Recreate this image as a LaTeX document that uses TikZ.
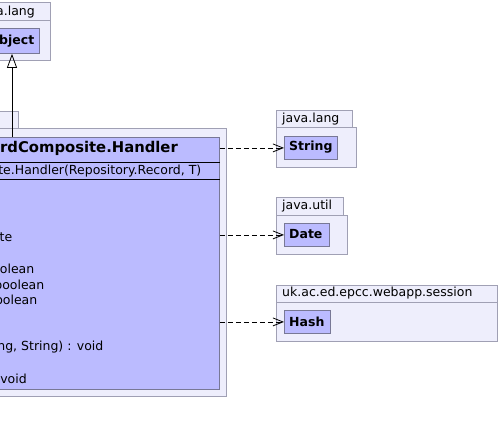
\documentclass[tikz,border=0pt]{standalone}
\usepackage{fontspec}
\setmainfont{DejaVu Sans}
\usetikzlibrary{arrows.meta}
\definecolor{pkgfill}{RGB}{238,238,252}
\definecolor{pkgline}{RGB}{160,160,180}
\definecolor{clsfill}{RGB}{187,187,255}
\definecolor{clsline}{RGB}{120,120,150}
\begin{document}
\begin{tikzpicture}[x=1pt,y=-1pt,
  pkg/.style={draw=pkgline, fill=pkgfill, line width=0.8pt, inner sep=0pt, anchor=north west},
  cls/.style={draw=clsline, fill=clsfill, line width=0.8pt, inner sep=0pt, anchor=north west},
  lbl/.style={inner sep=0pt, font=\fontsize{12.5}{14}\selectfont},
  blbl/.style={inner sep=0pt, font=\fontsize{12.5}{14}\selectfont\bfseries},
  ttl/.style={inner sep=0pt, font=\fontsize{14.8}{17}\selectfont\bfseries},
  dep/.style={dash pattern=on 5pt off 3pt, line width=0.8pt, -{Straight Barb[length=10pt,width=8pt]}},
  inh/.style={line width=0.8pt, -{Triangle[open,length=14pt,width=10pt]}},
  sep/.style={line width=0.9pt, draw=black}]
\useasboundingbox (0,0) rectangle (500,434);
\clip (0,0) rectangle (500,434);

% package of Object
\node[pkg, minimum width=90pt, minimum height=18pt] (objtab) at (-40,2) {};
\node[pkg, minimum width=90pt, minimum height=40pt] (objpkg) at (-40,20) {};
\node[lbl, anchor=east] (objlbl) at (35,12) {a.lang};
\node[cls, minimum width=59pt, minimum height=25pt] (objbox) at (-20,28) {};
\node[blbl, anchor=east] (objtxt) at (34.5,41) {bject};

% main package
\node[pkg, minimum width=58pt, minimum height=17pt] (maintab) at (-40,111) {};
\node[pkg, minimum width=266pt, minimum height=268pt] (mainpkg) at (-40,128) {};
\node[cls, minimum width=279pt, minimum height=252pt] (cls) at (-60,137) {};
\draw[sep] (cls.west |- 0,162) -- (cls.east |- 0,162);
\draw[sep] (cls.west |- 0,179) -- (cls.east |- 0,179);
\node[ttl, anchor=east] (title) at (178,148.5) {rdComposite.Handler};
\node[lbl, anchor=east] (ctor) at (201.5,171) {te.Handler(Repository.Record, T)};
\node[lbl, anchor=east] (m1) at (12.5,237) {te};
\node[lbl, anchor=east] (m2) at (34.5,269) {olean};
\node[lbl, anchor=east] (m3) at (44.5,285) {boolean};
\node[lbl, anchor=east] (m4) at (37.5,300) {oolean};
\node[lbl, anchor=east] (m5) at (103.5,347) {ng, String) : void};
\node[lbl, anchor=east] (m6) at (27,379) {void};

% java.lang / String
\node[pkg, minimum width=76pt, minimum height=17pt] (langtab) at (276,110) {};
\node[pkg, minimum width=80pt, minimum height=40pt] (langpkg) at (276,127) {};
\node[lbl, anchor=west] (langlbl) at (282,119) {java.lang};
\node[cls, minimum width=53pt, minimum height=23pt] (strbox) at (284,136) {};
\node[blbl, anchor=west] (strtxt) at (289,147.5) {String};

% java.util / Date
\node[pkg, minimum width=67pt, minimum height=18pt] (utiltab) at (276,197) {};
\node[pkg, minimum width=71pt, minimum height=39pt] (utilpkg) at (276,215) {};
\node[lbl, anchor=west] (utillbl) at (282,206) {java.util};
\node[cls, minimum width=45pt, minimum height=23pt] (datebox) at (284,223) {};
\node[blbl, anchor=west] (datetxt) at (289,234.5) {Date};

% uk.ac.ed.epcc.webapp.session / Hash
\node[pkg, minimum width=221pt, minimum height=17pt] (sestab) at (276,285) {};
\node[pkg, minimum width=221pt, minimum height=39pt] (sespkg) at (276,302) {};
\node[lbl, anchor=west] (seslbl) at (282,293) {uk.ac.ed.epcc.webapp.session};
\node[cls, minimum width=46pt, minimum height=23pt] (hashbox) at (284,310) {};
\node[blbl, anchor=west] (hashtxt) at (289,321.5) {Hash};

% connectors
\coordinate (inhs) at (12,137);
\draw[inh] (inhs) -- (objbox.south -| inhs);
\draw[dep] (cls.east |- strbox.west) -- (strbox.west);
\draw[dep] (cls.east |- datebox.west) -- (datebox.west);
\draw[dep] (cls.east |- hashbox.west) -- (hashbox.west);
\end{tikzpicture}
\end{document}
